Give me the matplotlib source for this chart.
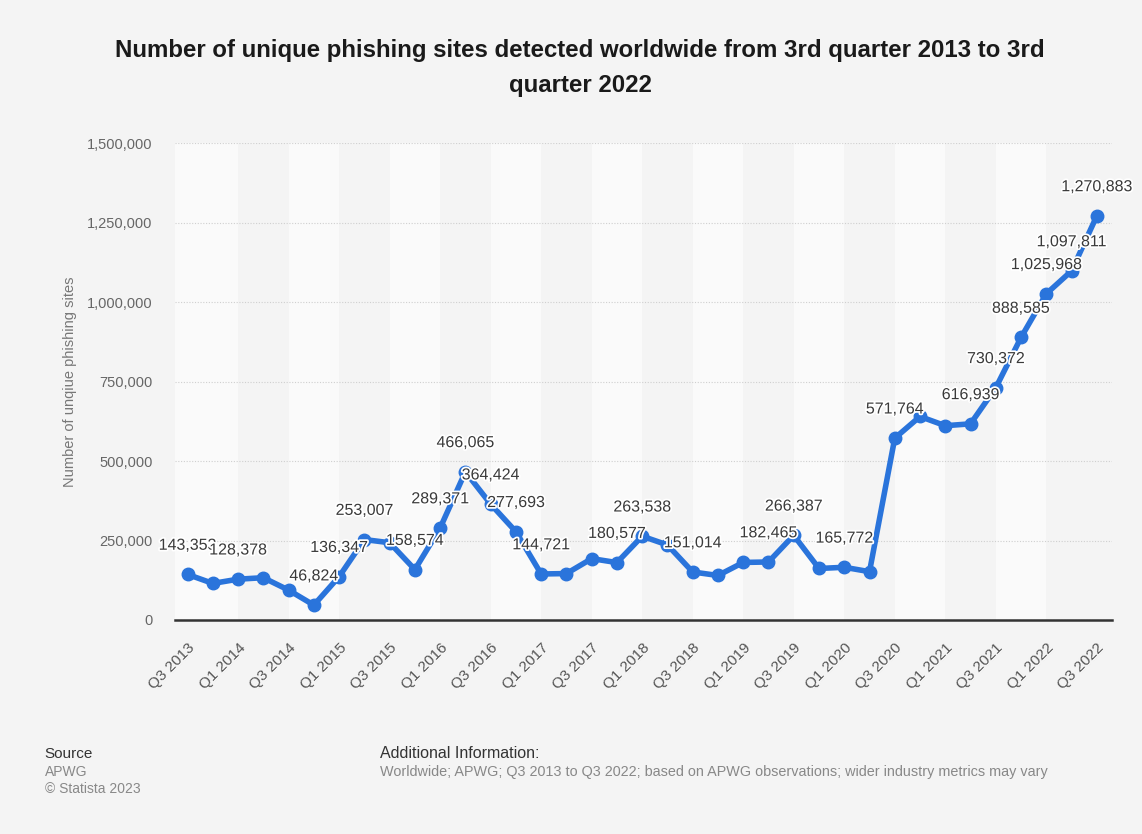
import matplotlib.pyplot as plt
import matplotlib.patheffects as pe
from matplotlib.ticker import FuncFormatter

# data ----
quarters = ['Q3 2013', 'Q4 2013', 'Q1 2014', 'Q2 2014', 'Q3 2014', 'Q4 2014',
            'Q1 2015', 'Q2 2015', 'Q3 2015', 'Q4 2015', 'Q1 2016', 'Q2 2016',
            'Q3 2016', 'Q4 2016', 'Q1 2017', 'Q2 2017', 'Q3 2017', 'Q4 2017',
            'Q1 2018', 'Q2 2018', 'Q3 2018', 'Q4 2018', 'Q1 2019', 'Q2 2019',
            'Q3 2019', 'Q4 2019', 'Q1 2020', 'Q2 2020', 'Q3 2020', 'Q4 2020',
            'Q1 2021', 'Q2 2021', 'Q3 2021', 'Q4 2021', 'Q1 2022', 'Q2 2022',
            'Q3 2022']
sites = [143353, 115000, 128378, 133000, 94000, 46824,
         136347, 253007, 243000, 158574, 289371, 466065,
         364424, 277693, 144721, 146000, 193000, 180577,
         263538, 236000, 151014, 140000, 181000, 182465,
         266387, 162000, 165772, 152000, 571764, 640000,
         611000, 616939, 730372, 888585, 1025968, 1097811,
         1270883]
# which points carry a value label (others hidden, as in the original)
show_label = [1, 0, 1, 0, 0, 1,
              1, 1, 0, 1, 1, 1,
              1, 1, 1, 0, 0, 1,
              1, 0, 1, 0, 0, 1,
              1, 0, 1, 0, 1, 0,
              0, 1, 1, 1, 1, 1,
              1]
y_ticks = [0, 250000, 500000, 750000, 1000000, 1250000, 1500000]

plt.rcParams['font.family'] = ['Liberation Sans', 'DejaVu Sans']
bg = '#f4f4f4'
blue = '#2a74db'

fig = plt.figure(figsize=(11.42, 8.34), dpi=100, facecolor=bg)
ax = fig.add_axes([0.1532, 0.2566, 0.8205, 0.5719])
ax.set_facecolor(bg)

n = len(quarters)
x = list(range(n))

# alternating column bands
for k in range(0, n - 1, 4):
    left = -0.5 if k == 0 else k
    ax.axvspan(left, k + 2, color='#fafafa', lw=0, zorder=0)

ax.plot(x, sites, color=blue, lw=4, marker='o', markersize=9,
        solid_joinstyle='round', zorder=3)

for i, v in enumerate(sites):
    if show_label[i]:
        ax.annotate(f'{v:,}', (i, v), xytext=(0, 21), textcoords='offset points',
                    ha='center', va='center', fontsize=11.5, color='#3a3a3a', zorder=4,
                    path_effects=[pe.withStroke(linewidth=2.5, foreground='white')])

ax.set_xlim(-0.5, n - 0.4)
ax.set_ylim(0, 1500000)
ax.set_yticks(y_ticks)
ax.yaxis.set_major_formatter(FuncFormatter(lambda v, p: f'{int(v):,}'))
ax.set_xticks(x[::2])
ax.set_xticklabels(quarters[::2], rotation=45, ha='right', rotation_mode='anchor',
                   fontsize=11, color='#555555')
ax.tick_params(axis='y', labelsize=10.5, labelcolor='#666666', length=0, pad=16)
ax.tick_params(axis='x', length=0, pad=15)
ax.grid(axis='y', color='#cfcfcf', linestyle=(0, (1, 1.5)), lw=0.8, zorder=1)
ax.set_axisbelow(True)
for s in ['top', 'right', 'left']:
    ax.spines[s].set_visible(False)
ax.spines['bottom'].set_color('#333333')
ax.spines['bottom'].set_linewidth(1.8)
ax.spines['bottom'].set_zorder(2)

ax.set_ylabel('Number of unqiue phishing sites', fontsize=10.5, color='#777777', labelpad=7)

# title
fig.text(0.508, 0.939, 'Number of unique phishing sites detected worldwide from 3rd quarter 2013 to 3rd',
         ha='center', va='center', fontsize=17.3, fontweight='bold', color='#1a1a1a')
fig.text(0.508, 0.897, 'quarter 2022', ha='center', va='center', fontsize=17.3,
         fontweight='bold', color='#1a1a1a')

# footer
fig.text(0.039, 0.096, 'Source', fontsize=11, color='#333333', va='center')
fig.text(0.039, 0.074, 'APWG', fontsize=10, color='#888888', va='center')
fig.text(0.039, 0.054, '\u00a9 Statista 2023', fontsize=10, color='#888888', va='center')
fig.text(0.333, 0.096, 'Additional Information:', fontsize=11.5, color='#333333', va='center')
fig.text(0.333, 0.074, 'Worldwide; APWG; Q3 2013 to Q3 2022; based on APWG observations; '
         'wider industry metrics may vary', fontsize=10.4, color='#888888', va='center')

fig.savefig('out.png', dpi=100, facecolor=bg)
